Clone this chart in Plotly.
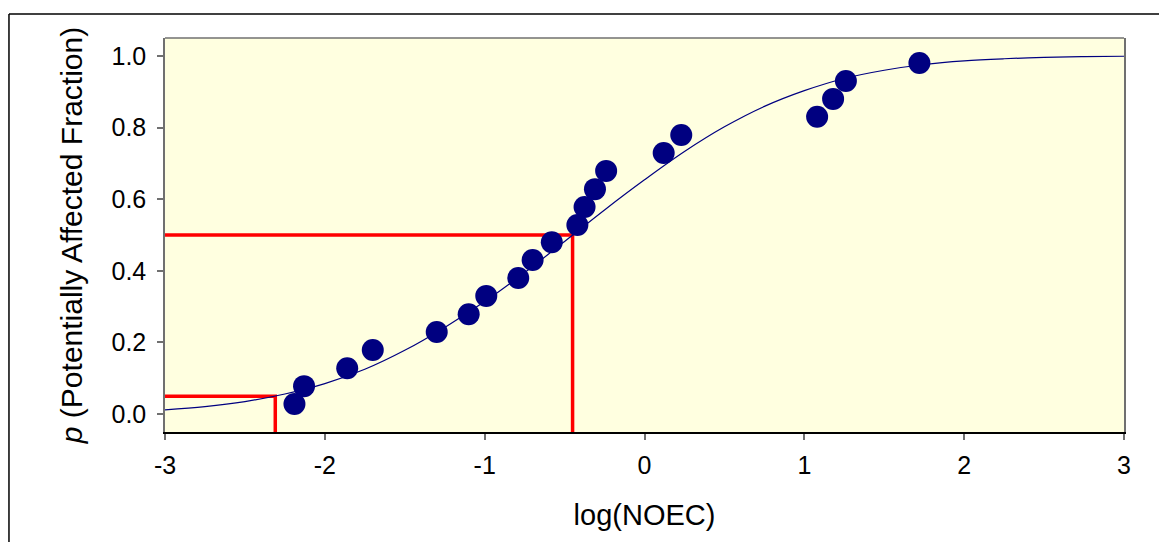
import plotly.graph_objects as go

# Observed data points (log NOEC vs. potentially affected fraction)
log_noec = [-2.19, -2.13, -1.86, -1.70, -1.30, -1.10, -0.99, -0.79, -0.70, -0.58,
            -0.42, -0.375, -0.31, -0.24, 0.12, 0.23, 1.08, 1.18, 1.26, 1.72]
paf = [0.028, 0.078, 0.128, 0.179, 0.229, 0.279, 0.33, 0.38, 0.43, 0.48,
       0.528, 0.578, 0.628, 0.679, 0.729, 0.779, 0.83, 0.88, 0.93, 0.98]

# Fitted curve
curve_x = [-3.0, -2.75, -2.5, -2.25, -2.0, -1.75, -1.5, -1.25, -1.0, -0.75, -0.5, -0.25,
           0.0, 0.25, 0.5, 0.75, 1.0, 1.25, 1.5, 1.75, 2.0, 2.25, 2.5, 2.75, 3.0]
curve_y = [0.012, 0.021, 0.035, 0.056, 0.085, 0.125, 0.178, 0.242, 0.314, 0.395, 0.482, 0.570,
           0.654, 0.733, 0.802, 0.859, 0.903, 0.937, 0.960, 0.976, 0.986, 0.992, 0.996, 0.998, 0.999]

# Red guide lines: HC5 and HC50
hc_x = [-2.31, -0.45]
hc_p = [0.05, 0.5]

x_ticks = [-3, -2, -1, 0, 1, 2, 3]
x_ticktext = ["-3", "-2", "-1", "0", "1", "2", "3"]
y_ticks = [0.0, 0.2, 0.4, 0.6, 0.8, 1.0]
y_ticktext = ["0.0", "0.2", "0.4", "0.6", "0.8", "1.0"]

x_range = [-3, 3]
y_range = [-0.05, 1.05]

FONT = "Liberation Sans, Arial, sans-serif"

fig = go.Figure()

for hx, hp in zip(hc_x, hc_p):
    fig.add_trace(go.Scatter(
        x=[x_range[0], hx, hx], y=[hp, hp, y_range[0]],
        mode="lines", line=dict(color="#FF0000", width=3.5),
        hoverinfo="skip", showlegend=False, cliponaxis=False))

fig.add_trace(go.Scatter(
    x=curve_x, y=curve_y, mode="lines",
    line=dict(color="#000080", width=1.2, shape="spline", smoothing=1.0),
    showlegend=False))

fig.add_trace(go.Scatter(
    x=log_noec, y=paf, mode="markers",
    marker=dict(color="#000080", size=22, line=dict(width=0)),
    showlegend=False))

# page body has an 8px default margin: size the figure to compensate
fig.update_layout(
    width=1159, height=534,
    margin=dict(l=157, r=43, t=30, b=110),
    paper_bgcolor="white",
    plot_bgcolor="#FFFFE0",
    font=dict(family=FONT, size=25, color="black"),
    shapes=[
        # outer frame
        dict(type="line", xref="paper", yref="paper", x0=-0.1627, x1=1.06, y0=1.061, y1=1.061,
             line=dict(color="black", width=1.5)),
        dict(type="line", xref="paper", yref="paper", x0=-0.1627, x1=-0.1627, y0=1.061, y1=-0.3,
             line=dict(color="black", width=1.5)),
        # top border of plot area
        dict(type="line", xref="paper", yref="paper", x0=0, x1=1, y0=1, y1=1,
             line=dict(color="#707070", width=1.5)),
    ],
)

fig.update_xaxes(
    range=x_range, tickvals=x_ticks, ticktext=x_ticktext,
    showgrid=False, zeroline=False,
    showline=True, linecolor="black", linewidth=1.5,
    ticks="outside", ticklen=6, tickcolor="#707070", tickwidth=1.5,
    ticklabelstandoff=4,
    title=dict(text="log(NOEC)", standoff=27, font=dict(size=29)),
    tickfont=dict(size=25),
)
fig.update_yaxes(
    range=y_range, tickvals=y_ticks, ticktext=y_ticktext,
    showgrid=False, zeroline=False,
    showline=True, linecolor="#707070", linewidth=1.5, mirror=True,
    ticks="outside", ticklen=6, tickcolor="#707070", tickwidth=1.5,
    ticklabelstandoff=6,
    title=dict(text="<i>p</i> (Potentially Affected Fraction)", standoff=20, font=dict(size=30)),
    tickfont=dict(size=25),
)

fig.write_html("out.html")
